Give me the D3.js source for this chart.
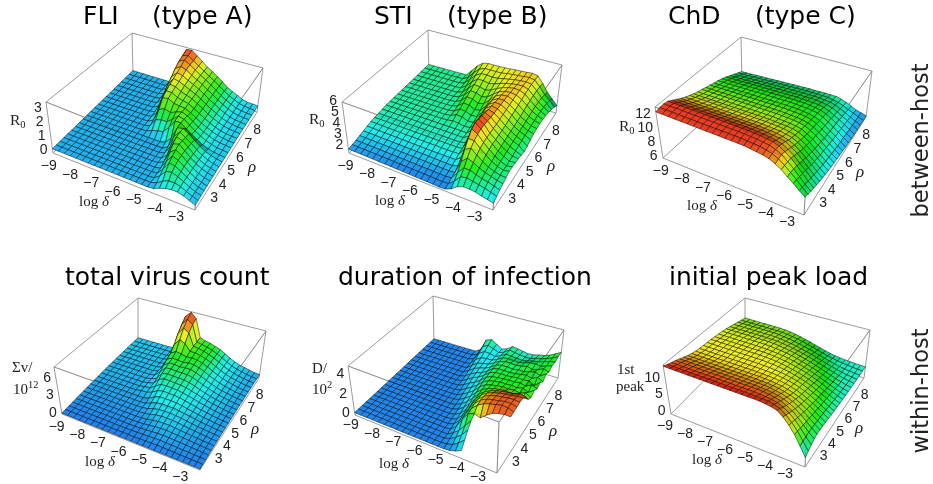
<!DOCTYPE html>
<html>
<head>
<meta charset="utf-8">
<script src="https://cdn.jsdelivr.net/npm/d3@7"></script>
<style>
  html, body { margin: 0; padding: 0; background: #fff; }
  #chart { display: block; filter: blur(0.3px); }
</style>
</head>
<body>
<svg id="chart"></svg>
<script>
// ticks
const deltaTicks = [-9, -8, -7, -6, -5, -4, -3];
const rhoTicks = [3, 4, 5, 6, 7, 8];

// surfaces: one row per rho step (front to back), one value per log delta step
const fliR0 = [
[.05,.05,.05,.05,.05,.05,.05,.05,.05,.05,.05,.05,.05,.05,.05,.05,.05,.1,.3,.45,.55,.55,.45,.28,.1],
[.05,.05,.05,.05,.05,.05,.05,.05,.05,.05,.05,.05,.05,.05,.05,.05,.06,.2,.5,.7,.72,.62,.42,.25,.12],
[.05,.05,.05,.05,.05,.05,.05,.05,.05,.05,.05,.05,.05,.05,.05,.05,.08,.4,.9,1,.85,.65,.42,.25,.13],
[.05,.05,.05,.05,.05,.05,.05,.05,.05,.05,.05,.05,.05,.05,.05,.05,.1,.6,1.2,1.15,.9,.65,.42,.26,.15],
[.05,.05,.05,.05,.05,.05,.05,.05,.05,.05,.05,.05,.05,.05,.05,.05,.15,.85,1.4,1.25,.95,.65,.42,.26,.16],
[.05,.05,.05,.05,.05,.05,.05,.05,.05,.05,.05,.05,.05,.05,.05,.08,.3,1.2,1.55,1.3,.95,.65,.42,.26,.17],
[.05,.05,.05,.05,.05,.05,.05,.05,.05,.05,.05,.05,.05,.05,.05,.1,.5,1.5,1.65,1.3,.95,.65,.42,.28,.18],
[.05,.05,.05,.05,.05,.05,.05,.05,.05,.05,.05,.05,.05,.05,.05,.15,.85,1.7,1.6,1.25,.9,.62,.42,.28,.2],
[.05,.05,.05,.05,.05,.05,.05,.05,.05,.05,.05,.05,.05,.05,.05,.3,1.25,1.75,1.5,1.2,.88,.6,.4,.28,.2],
[.05,.05,.05,.05,.05,.05,.05,.05,.05,.05,.05,.05,.05,.05,.18,.65,1.6,1.7,1.45,1.1,.8,.55,.4,.3,.22],
[.05,.05,.05,.05,.05,.05,.05,.05,.05,.06,.1,.3,.4,.5,1,1.65,1.65,1.35,1.05,.8,.55,.4,.3,.25,.2],
[.05,.05,.05,.05,.05,.05,.05,.05,.05,.06,.18,.8,.95,.95,1.3,1.7,1.6,1.3,1,.75,.55,.4,.3,.25,.22],
[.05,.05,.05,.05,.05,.05,.05,.05,.05,.08,.3,1.3,1.5,1.35,1.55,1.7,1.55,1.25,.95,.72,.55,.4,.32,.27,.24],
[.05,.05,.05,.05,.05,.05,.05,.05,.06,.12,.6,1.9,2,1.75,1.7,1.65,1.45,1.2,.92,.72,.55,.4,.32,.27,.24],
[.05,.05,.05,.05,.05,.05,.05,.05,.07,.18,1,2.15,2.15,1.9,1.8,1.7,1.45,1.2,.95,.72,.55,.4,.32,.27,.25],
[.05,.05,.05,.05,.05,.05,.05,.05,.08,.3,1.45,2.35,2.3,2.05,1.9,1.75,1.5,1.25,.95,.75,.55,.42,.33,.28,.25],
[.05,.05,.05,.05,.05,.05,.05,.05,.1,.5,1.85,2.5,2.4,2.2,2,1.8,1.55,1.25,1,.78,.55,.42,.33,.28,.25],
[.05,.05,.05,.05,.05,.05,.05,.05,.12,.75,2.2,2.65,2.55,2.3,2.1,1.85,1.6,1.3,1.05,.8,.6,.42,.33,.28,.25],
[.05,.05,.05,.05,.05,.05,.05,.05,.2,1.05,2.55,2.85,2.7,2.4,2.15,1.9,1.6,1.35,1.05,.8,.6,.42,.33,.28,.25],
[.05,.05,.05,.05,.05,.05,.05,.05,.3,1.4,2.85,3.05,2.8,2.5,2.2,1.95,1.65,1.35,1.05,.8,.6,.42,.33,.28,.25],
[.05,.05,.05,.05,.05,.05,.05,.05,.5,1.8,3,3.1,2.8,2.5,2.2,1.9,1.65,1.35,1.05,.8,.6,.42,.32,.28,.25],
[.05,.05,.05,.05,.05,.05,.05,.05,.8,2,3.2,3.25,2.9,2.55,2.2,1.95,1.65,1.35,1,.8,.6,.4,.3,.28,.25]
];

const stiR0 = [
[1.85,1.85,1.84,1.83,1.82,1.8,1.79,1.78,1.76,1.75,1.74,1.72,1.71,1.7,1.68,1.65,1.68,1.9,2.3,2.5,2.5,2.45,2.3,2.2,2.1],
[1.93,1.93,1.92,1.91,1.9,1.89,1.88,1.87,1.85,1.84,1.83,1.81,1.8,1.78,1.77,1.75,1.78,2.2,2.8,2.9,2.8,2.7,2.6,2.45,2.3],
[2,2,1.99,1.98,1.97,1.96,1.95,1.94,1.93,1.92,1.9,1.89,1.88,1.87,1.86,1.85,1.9,2.6,3.2,3.2,3,2.85,2.75,2.6,2.45],
[2.1,2.1,2.09,2.08,2.07,2.06,2.05,2.04,2.03,2.02,2.01,2,1.99,1.97,1.96,1.95,2,3.2,3.7,3.5,3.2,3,2.85,2.7,2.6],
[2.2,2.2,2.19,2.18,2.17,2.16,2.15,2.14,2.13,2.12,2.11,2.1,2.09,2.07,2.06,2.05,2.25,3.9,4.2,3.8,3.4,3.1,2.9,2.75,2.75],
[2.3,2.3,2.29,2.28,2.27,2.26,2.25,2.24,2.23,2.22,2.21,2.2,2.2,2.2,2.2,2.2,2.6,4.5,4.5,4,3.6,3.2,2.95,2.8,2.9],
[2.4,2.4,2.39,2.38,2.37,2.36,2.35,2.35,2.34,2.34,2.33,2.33,2.32,2.32,2.32,2.35,3,5,4.7,4.15,3.7,3.3,3,2.8,2.9],
[2.45,2.45,2.45,2.44,2.44,2.43,2.43,2.42,2.42,2.42,2.41,2.41,2.41,2.41,2.41,2.45,3.5,5.2,4.8,4.2,3.8,3.35,3.05,2.8,2.85],
[2.5,2.5,2.5,2.49,2.49,2.48,2.48,2.48,2.47,2.47,2.47,2.47,2.46,2.46,2.46,2.6,3.9,5.15,4.8,4.2,3.8,3.4,3.1,2.85,2.8],
[2.55,2.55,2.55,2.54,2.54,2.53,2.53,2.53,2.52,2.52,2.52,2.52,2.51,2.51,2.5,2.8,4.2,5.05,4.75,4.25,3.85,3.45,3.15,2.9,2.7],
[2.6,2.6,2.6,2.59,2.59,2.58,2.58,2.58,2.57,2.57,2.57,2.57,2.56,2.56,2.55,3,4.3,4.95,4.7,4.25,3.85,3.5,3.2,3,2.6],
[2.62,2.62,2.62,2.62,2.62,2.62,2.62,2.62,2.62,2.62,2.65,2.75,2.7,2.6,2.65,3.1,4.35,4.85,4.7,4.3,3.9,3.55,3.25,3.05,2.7],
[2.63,2.63,2.63,2.63,2.63,2.63,2.63,2.63,2.63,2.63,2.7,2.95,2.9,2.7,2.75,3.3,4.4,4.8,4.7,4.35,4,3.6,3.3,3.1,2.85],
[2.64,2.64,2.64,2.64,2.64,2.64,2.64,2.64,2.64,2.65,2.75,3.1,3.05,2.85,2.9,3.5,4.4,4.75,4.7,4.4,4.05,3.65,3.35,3.1,3],
[2.65,2.65,2.65,2.65,2.65,2.65,2.65,2.65,2.65,2.68,2.85,3.3,3.25,3,3.1,3.7,4.4,4.7,4.7,4.45,4.1,3.7,3.4,3.15,3.05],
[2.66,2.66,2.66,2.66,2.66,2.66,2.66,2.66,2.67,2.72,3,3.5,3.45,3.2,3.35,3.85,4.4,4.65,4.7,4.5,4.2,3.8,3.45,3.2,3.1],
[2.67,2.67,2.67,2.67,2.67,2.67,2.67,2.67,2.68,2.8,3.2,3.7,3.65,3.45,3.6,4,4.4,4.6,4.65,4.55,4.3,3.9,3.5,3.25,3.05],
[2.68,2.68,2.68,2.68,2.68,2.68,2.68,2.68,2.7,2.9,3.4,3.9,3.85,3.7,3.85,4.15,4.4,4.55,4.65,4.6,4.4,3.95,3.55,3.25,3],
[2.7,2.7,2.7,2.7,2.7,2.7,2.7,2.7,2.75,3.1,3.65,4.05,4.05,3.95,4.05,4.25,4.4,4.5,4.6,4.6,4.45,4,3.55,3.2,2.9],
[2.71,2.71,2.71,2.71,2.71,2.71,2.71,2.71,2.85,3.35,3.9,4.2,4.2,4.15,4.2,4.3,4.4,4.5,4.55,4.6,4.5,4.05,3.5,3.15,2.7],
[2.72,2.72,2.72,2.72,2.72,2.72,2.72,2.72,3,3.6,4.1,4.3,4.3,4.3,4.3,4.4,4.45,4.5,4.55,4.6,4.5,4,3.4,3,2.5],
[2.73,2.73,2.73,2.73,2.73,2.73,2.73,2.73,3.3,3.9,4.3,4.4,4.4,4.4,4.42,4.45,4.5,4.52,4.55,4.6,4.5,3.9,3.2,2.7,2.2]
];

const chdR0 = [
[12.1,12.1,12.1,12.1,12.1,12.1,12.1,12.1,12.1,12.1,12.1,12.1,12.1,12.1,12.1,12,11.9,11.8,11.6,11.2,10.7,10,9.4,8.7,8.1],
[12.25,12.25,12.25,12.25,12.25,12.25,12.25,12.25,12.25,12.25,12.25,12.25,12.25,12.25,12.2,12.15,12.1,11.9,11.7,11.3,10.7,10,9.3,8.5,7.85],
[12.3,12.3,12.3,12.3,12.3,12.3,12.3,12.3,12.3,12.3,12.3,12.3,12.3,12.3,12.25,12.2,12.1,12,11.7,11.3,10.6,9.9,9.1,8.3,7.6],
[12.2,12.2,12.2,12.2,12.2,12.2,12.2,12.2,12.2,12.2,12.2,12.2,12.2,12.2,12.15,12.1,12,11.9,11.6,11.1,10.5,9.7,8.9,8.1,7.4],
[11.85,11.85,11.85,11.85,11.85,11.85,11.85,11.85,11.85,11.85,11.85,11.85,11.85,11.85,11.8,11.75,11.65,11.5,11.3,10.8,10.2,9.4,8.7,7.9,7.2],
[11.5,11.5,11.5,11.5,11.5,11.5,11.5,11.5,11.5,11.5,11.5,11.5,11.5,11.5,11.45,11.4,11.3,11.2,11,10.5,9.9,9.2,8.4,7.7,7],
[11.15,11.15,11.15,11.15,11.15,11.15,11.15,11.15,11.15,11.15,11.15,11.15,11.15,11.15,11.1,11.05,11,10.85,10.6,10.2,9.6,8.9,8.2,7.5,6.85],
[10.85,10.85,10.85,10.85,10.85,10.85,10.85,10.85,10.85,10.85,10.85,10.85,10.85,10.85,10.8,10.75,10.7,10.55,10.35,9.95,9.35,8.7,8,7.3,6.7],
[10.6,10.6,10.6,10.6,10.6,10.6,10.6,10.6,10.6,10.6,10.6,10.6,10.6,10.6,10.55,10.5,10.45,10.3,10.1,9.7,9.15,8.5,7.85,7.15,6.55],
[10.35,10.35,10.35,10.35,10.35,10.35,10.35,10.35,10.35,10.35,10.35,10.35,10.35,10.35,10.3,10.25,10.2,10.1,9.9,9.5,8.95,8.3,7.65,7,6.4],
[10.15,10.15,10.15,10.15,10.15,10.15,10.15,10.15,10.15,10.15,10.15,10.15,10.15,10.15,10.1,10.05,10,9.9,9.7,9.3,8.75,8.15,7.55,6.9,6.3],
[10,10,10,10,10,10,10,10,10,10,10,10,10,10,9.95,9.9,9.85,9.75,9.55,9.15,8.65,8,7.4,6.75,6.2],
[9.8,9.8,9.8,9.8,9.8,9.8,9.8,9.8,9.8,9.8,9.8,9.8,9.8,9.8,9.75,9.7,9.65,9.55,9.35,9,8.45,7.9,7.3,6.65,6.1],
[9.65,9.65,9.65,9.65,9.65,9.65,9.65,9.65,9.65,9.65,9.65,9.65,9.65,9.65,9.6,9.55,9.5,9.4,9.2,8.85,8.3,7.75,7.15,6.55,6],
[9.45,9.45,9.45,9.45,9.45,9.45,9.45,9.45,9.45,9.45,9.45,9.45,9.45,9.45,9.4,9.4,9.3,9.2,9,8.7,8.15,7.6,7.05,6.45,5.9],
[9.3,9.3,9.3,9.3,9.3,9.3,9.3,9.3,9.3,9.3,9.3,9.3,9.3,9.3,9.25,9.2,9.15,9.05,8.9,8.55,8.05,7.5,6.95,6.4,5.85],
[9.1,9.1,9.1,9.1,9.1,9.1,9.1,9.1,9.1,9.1,9.1,9.1,9.1,9.1,9.05,9.05,8.95,8.85,8.7,8.35,7.9,7.4,6.85,6.3,5.8],
[8.85,8.85,8.85,8.85,8.85,8.85,8.85,8.85,8.85,8.85,8.85,8.85,8.85,8.85,8.8,8.8,8.7,8.65,8.45,8.15,7.7,7.25,6.75,6.2,5.75],
[8.55,8.55,8.55,8.55,8.55,8.55,8.55,8.55,8.55,8.55,8.55,8.55,8.55,8.55,8.5,8.5,8.45,8.35,8.2,7.95,7.55,7.1,6.65,6.15,5.72],
[8.25,8.25,8.25,8.25,8.25,8.25,8.25,8.25,8.25,8.25,8.25,8.25,8.25,8.25,8.2,8.2,8.15,8.05,7.95,7.7,7.35,6.95,6.5,6.1,5.7],
[7.95,7.95,7.95,7.95,7.95,7.95,7.95,7.95,7.95,7.95,7.95,7.95,7.95,7.95,7.9,7.9,7.85,7.8,7.65,7.45,7.15,6.75,6.4,6.05,5.7],
[7.65,7.65,7.65,7.65,7.65,7.65,7.65,7.65,7.65,7.65,7.65,7.65,7.65,7.65,7.6,7.6,7.6,7.55,7.5,7.3,7,6.6,6.2,5.95,5.7]
];

const virusCount = [
[0,0,0,0,0,0,0,0,0,0,0,0,0,0,0,0,0,0,0,0,0,0,0,0,0],
[.05,.05,.05,.05,.05,.05,.05,.05,.05,.05,.05,.06,.08,.11,.14,.17,.18,.18,.16,.14,.12,.1,.08,.07,.06],
[.1,.1,.1,.1,.1,.1,.1,.1,.1,.1,.1,.12,.15,.2,.25,.3,.32,.31,.29,.26,.22,.19,.16,.13,.11],
[.15,.15,.15,.15,.15,.15,.15,.15,.15,.15,.15,.17,.22,.3,.38,.45,.48,.46,.42,.37,.32,.28,.23,.19,.15],
[.2,.2,.2,.2,.2,.2,.2,.2,.2,.2,.2,.22,.3,.42,.55,.62,.65,.6,.55,.47,.4,.35,.28,.23,.19],
[.25,.25,.25,.25,.25,.25,.25,.25,.25,.25,.26,.3,.4,.6,.75,.8,.8,.75,.65,.55,.48,.4,.33,.27,.22],
[.3,.3,.3,.3,.3,.3,.3,.3,.3,.3,.32,.4,.6,.85,.95,1,.95,.88,.75,.65,.55,.45,.37,.3,.24],
[.35,.35,.35,.35,.35,.35,.35,.35,.35,.35,.4,.55,.9,1.1,1.15,1.15,1.1,1,.85,.72,.6,.5,.4,.33,.27],
[.4,.4,.4,.4,.4,.4,.4,.4,.4,.4,.5,.85,1.25,1.35,1.35,1.35,1.25,1.1,.95,.8,.65,.55,.45,.36,.3],
[.45,.45,.45,.45,.45,.45,.45,.45,.45,.45,.7,1.25,1.6,1.6,1.6,1.55,1.4,1.2,1.05,.88,.72,.6,.48,.38,.32],
[.5,.5,.5,.5,.5,.5,.5,.5,.7,.75,1.1,1.7,1.9,1.85,1.85,1.75,1.55,1.35,1.15,.95,.8,.65,.52,.42,.34],
[.55,.55,.55,.55,.55,.55,.55,.55,.75,.85,1.5,2.1,2.15,2.1,2.05,1.9,1.7,1.5,1.25,1.05,.85,.7,.55,.44,.36],
[.6,.6,.6,.6,.6,.6,.6,.6,.8,1,2,2.4,2.35,2.3,2.25,2.1,1.85,1.6,1.35,1.1,.9,.75,.58,.46,.38],
[.62,.62,.62,.62,.62,.62,.62,.62,.85,1.2,2.4,2.6,2.5,2.5,2.45,2.3,2,1.7,1.4,1.15,.95,.78,.6,.48,.4],
[.65,.65,.65,.65,.65,.65,.65,.65,.85,1.7,2.7,2.8,2.7,2.7,2.7,2.5,2.15,1.8,1.5,1.2,.98,.8,.62,.5,.42],
[.68,.68,.68,.68,.68,.68,.68,.68,.9,2.2,2.9,2.9,2.8,2.9,2.9,2.65,2.3,1.9,1.55,1.25,1,.82,.64,.52,.43],
[.7,.7,.7,.7,.7,.7,.7,.7,.9,2.6,3.1,3,2.9,3.1,3.05,2.8,2.45,2,1.65,1.3,1.05,.85,.66,.54,.44],
[.72,.72,.72,.72,.72,.72,.72,.72,.95,3,3.6,3.4,3.2,3.3,3.2,2.9,2.55,2.1,1.7,1.35,1.1,.88,.68,.55,.45],
[.75,.75,.75,.75,.75,.75,.75,.75,1,3.9,5,4.6,3.5,3.5,3.3,3,2.65,2.2,1.75,1.4,1.1,.9,.7,.55,.45],
[.77,.77,.77,.77,.77,.77,.77,.77,1,5.2,6.4,5.8,3.7,3.6,3.35,3.05,2.7,2.25,1.8,1.4,1.1,.9,.7,.55,.45],
[.78,.78,.78,.78,.78,.78,.78,.78,1.1,6.2,7.3,6.6,3.8,3.6,3.4,3.1,2.75,2.3,1.8,1.4,1.1,.9,.7,.55,.45],
[.8,.8,.8,.8,.8,.8,.8,.85,1.2,7,7.9,7,3.9,3.6,3.4,3.1,2.8,2.3,1.8,1.4,1.1,.9,.7,.55,.45]
];

// null = no surface there (low rho, high delta: the infection does not persist)
const duration = [
[.05,.05,.05,.05,.05,.05,.05,.05,.05,.05,.05,.05,.05,.05,.05,.06,.12,.3,.6,null,null,null,null,null,null],
[.05,.05,.05,.05,.05,.05,.05,.05,.05,.05,.05,.05,.05,.05,.05,.12,.3,.7,1.2,null,null,null,null,null,null],
[.05,.05,.05,.05,.05,.05,.05,.05,.05,.05,.05,.05,.05,.05,.05,.25,.6,1.1,1.8,null,null,null,null,null,null],
[.05,.05,.05,.05,.05,.05,.05,.05,.05,.05,.05,.05,.05,.05,.05,.4,.9,1.6,2.3,null,null,null,null,null,null],
[.05,.05,.05,.05,.05,.05,.05,.05,.05,.05,.05,.05,.05,.05,.15,.65,1.6,2.4,2.6,2.4,2.9,3.3,3.5,3.6,3.6],
[.05,.05,.05,.05,.05,.05,.05,.05,.05,.05,.05,.05,.05,.05,.25,.85,1.75,2.5,3.05,3.4,3.6,3.75,3.9,3.85,3.65],
[.05,.05,.05,.05,.05,.05,.05,.05,.05,.05,.05,.05,.05,.12,.35,1,1.85,2.6,3.15,3.45,3.6,3.7,3.85,3.85,3.7],
[.05,.05,.05,.05,.05,.05,.05,.05,.05,.05,.05,.05,.05,.2,.5,1.15,1.95,2.6,3.1,3.4,3.55,3.65,3.75,3.8,3.75],
[.05,.05,.05,.05,.05,.05,.05,.05,.05,.05,.05,.05,.1,.3,.7,1.3,2,2.6,3,3.25,3.4,3.5,3.6,3.7,3.7],
[.05,.05,.05,.05,.05,.05,.05,.05,.05,.05,.05,.05,.15,.45,.85,1.45,2.05,2.5,2.8,3,3.15,3.25,3.3,3.5,3.4],
[.05,.05,.05,.05,.05,.05,.05,.05,.05,.05,.05,.08,.25,.6,1,1.6,2.1,2.4,2.6,2.7,2.8,2.7,2.85,2.7,2.7],
[.05,.05,.05,.05,.05,.05,.05,.05,.05,.05,.05,.12,.4,.75,1.15,1.75,2.15,2.35,2.45,2.55,2.5,2.6,2.5,2.7,2.4],
[.05,.05,.05,.05,.05,.05,.05,.05,.05,.05,.07,.2,.55,.9,1.3,1.85,2.15,2.3,2.4,2.4,2.45,2.4,2.55,2.3,2.7],
[.05,.05,.05,.05,.05,.05,.05,.05,.05,.05,.1,.35,.7,1,1.4,1.9,2.15,2.25,2.3,2.35,2.35,2.45,2.3,2.6,2.4],
[.05,.05,.05,.05,.05,.05,.05,.05,.05,.05,.15,.5,.85,1.1,1.5,1.95,2.15,2.2,2.2,2.25,2.35,2.3,2.4,2.1,2.6],
[.05,.05,.05,.05,.05,.05,.05,.05,.05,.05,.25,.65,.95,1.15,1.5,1.95,2.1,2.1,2.1,2.15,2.25,2.35,2.2,2.5,2.2],
[.05,.05,.05,.05,.05,.05,.05,.05,.05,.06,.4,.8,1.05,1.2,1.5,1.9,2.05,2.05,2,2.1,2.1,2.25,2.4,2.2,2.55],
[.05,.05,.05,.05,.05,.05,.05,.05,.05,.08,.55,.95,1.1,1.2,1.5,1.85,2,2,1.95,2.05,2.2,2.05,2.2,2.45,2.3],
[.05,.05,.05,.05,.05,.05,.05,.05,.05,.12,.75,1.1,1.2,1.2,1.45,1.8,1.85,1.85,1.8,1.95,2.1,2.15,2.1,2.3,2.5],
[.05,.05,.05,.05,.05,.05,.05,.05,.05,.2,1,1.35,1.3,1.15,1.4,1.75,1.7,1.65,1.6,1.7,1.85,1.95,2.1,2.3,2.4],
[.05,.05,.05,.05,.05,.05,.05,.05,.05,.3,1.3,1.6,1.4,1.15,1.35,1.75,1.65,1.55,1.5,1.5,1.7,1.8,2,2.2,2.5],
[.05,.05,.05,.05,.05,.05,.05,.05,.05,.4,1.6,1.8,1.45,1.1,1.3,1.7,1.6,1.5,1.4,1.45,1.6,1.7,1.9,2.2,2.5]
];

const peakLoad = [
[13.6,13.6,13.6,13.6,13.6,13.6,13.6,13.6,13.6,13.6,13.6,13.6,13.6,13.6,13.6,13.6,13.6,13.4,13.2,12.7,11.4,9.6,7.4,4.6,1.8],
[13.2,13.2,13.2,13.2,13.2,13.2,13.2,13.2,13.2,13.2,13.2,13.2,13.2,13.2,13.2,13.2,13.1,13,12.7,12,10.8,9.1,7.2,4.8,2.5],
[12.8,12.8,12.8,12.8,12.8,12.8,12.8,12.8,12.8,12.8,12.8,12.8,12.8,12.8,12.8,12.7,12.6,12.4,12,11.3,10.2,8.7,6.9,4.9,3.1],
[12.4,12.4,12.4,12.4,12.4,12.4,12.4,12.4,12.4,12.4,12.4,12.4,12.4,12.4,12.4,12.3,12.1,11.8,11.4,10.6,9.6,8.2,6.6,5,3.6],
[11.9,11.9,11.9,11.9,11.9,11.9,11.9,11.9,11.9,11.9,11.9,11.9,11.9,11.9,11.8,11.7,11.5,11.2,10.7,10,9,7.8,6.4,5,3.8],
[11.4,11.4,11.4,11.4,11.4,11.4,11.4,11.4,11.4,11.4,11.4,11.4,11.4,11.4,11.3,11.2,10.9,10.6,10.1,9.4,8.5,7.4,6.1,4.9,3.8],
[10.9,10.9,10.9,10.9,10.9,10.9,10.9,10.9,10.9,10.9,10.9,10.9,10.9,10.8,10.75,10.6,10.4,10,9.5,8.9,8,7,5.9,4.7,3.7],
[10.5,10.5,10.5,10.5,10.5,10.5,10.5,10.5,10.5,10.5,10.5,10.5,10.5,10.4,10.3,10.1,9.9,9.5,9,8.4,7.6,6.7,5.6,4.5,3.55],
[10.2,10.2,10.2,10.2,10.2,10.2,10.2,10.2,10.2,10.2,10.2,10.2,10.1,10.05,9.95,9.75,9.5,9.1,8.6,8,7.2,6.3,5.4,4.4,3.45],
[10,10,10,10,10,10,10,10,10,10,10,10,9.9,9.8,9.65,9.45,9.15,8.75,8.25,7.6,6.9,6,5.1,4.2,3.3],
[9.9,9.9,9.9,9.9,9.9,9.9,9.9,9.9,9.9,9.9,9.9,9.8,9.75,9.6,9.4,9.15,8.8,8.4,7.9,7.25,6.5,5.7,4.85,4,3.2],
[9.8,9.8,9.8,9.8,9.8,9.8,9.8,9.8,9.8,9.8,9.8,9.7,9.6,9.4,9.15,8.85,8.45,8,7.5,6.85,6.15,5.4,4.6,3.8,3.05],
[9.7,9.7,9.7,9.7,9.7,9.7,9.7,9.7,9.7,9.7,9.6,9.5,9.35,9.1,8.8,8.45,8.05,7.6,7.05,6.45,5.8,5.05,4.3,3.6,2.95],
[9.5,9.5,9.5,9.5,9.5,9.5,9.5,9.5,9.5,9.5,9.4,9.25,9.05,8.8,8.5,8.1,7.7,7.2,6.65,6.05,5.4,4.7,4.05,3.4,2.85],
[9.3,9.3,9.3,9.3,9.3,9.3,9.3,9.3,9.3,9.2,9.1,8.95,8.75,8.45,8.1,7.7,7.25,6.75,6.2,5.6,5,4.4,3.75,3.2,2.75],
[9.1,9.1,9.1,9.1,9.1,9.1,9.1,9.1,9.1,9,8.85,8.65,8.4,8.1,7.7,7.25,6.8,6.3,5.75,5.2,4.6,4.05,3.5,3,2.65],
[8.8,8.8,8.8,8.8,8.8,8.8,8.8,8.8,8.8,8.7,8.5,8.25,8,7.65,7.25,6.8,6.35,5.85,5.3,4.8,4.25,3.75,3.3,2.9,2.6],
[8.4,8.4,8.4,8.4,8.4,8.4,8.4,8.4,8.35,8.25,8.05,7.8,7.5,7.15,6.75,6.35,5.85,5.35,4.85,4.35,3.9,3.45,3.1,2.8,2.55],
[8,8,8,8,8,8,8,8,7.95,7.8,7.55,7.3,7,6.6,6.2,5.8,5.3,4.85,4.4,3.95,3.55,3.2,2.9,2.7,2.5],
[7.6,7.6,7.6,7.6,7.6,7.6,7.6,7.6,7.5,7.3,7.1,6.8,6.45,6.05,5.65,5.2,4.75,4.3,3.9,3.55,3.2,2.95,2.75,2.6,2.5],
[7.1,7.1,7.1,7.1,7.1,7.1,7.1,7.1,7,6.85,6.6,6.3,5.95,5.5,5.1,4.65,4.2,3.8,3.5,3.2,3,2.8,2.65,2.55,2.5],
[6.7,6.7,6.7,6.7,6.7,6.7,6.7,6.7,6.6,6.4,6.15,5.8,5.4,5,4.5,4.05,3.65,3.3,3,2.85,2.7,2.6,2.55,2.5,2.5]
];

// Set up the SVG container
const svgWidth = 933;
const svgHeight = 484;
const svg = d3.select("#chart").attr("width", svgWidth).attr("height", svgHeight);

const serif = "'Liberation Serif', serif";
const sans = "'Liberation Sans', sans-serif";
const titleFont = "'DejaVu Sans', sans-serif";

// where each 3d box sits on the page: L left, K back, R right, B front corner, with t for the top of the box
const panels = [
  { values: fliR0, zDomain: [-.25, 3.35], zTicks: [0, 1, 2, 3], zDy: 5,
    hueDomain: [0, .5, 1, 1.4, 2.1, 2.6, 2.95, 3.25], hueRange: [200, 178, 145, 115, 85, 52, 28, 8],
    L: [53, 153], Lt: [46, 102], K: [133, 74], Kt: [132, 33], R: [257, 112], Rt: [263, 68], B: [195, 210], Bt: [197, 162],
    logPos: [79, 206], rhoPos: [248, 172], tickOff: [-10.5, 10.5] },
  { values: stiR0, zDomain: [1.5, 6.1], zTicks: [2, 3, 4, 5, 6], zDy: 2,
    hueDomain: [1.8, 2.25, 2.75, 3.3, 4.2, 4.6, 5], hueRange: [208, 180, 150, 115, 70, 50, 12],
    L: [349, 153], Lt: [342, 102], K: [429, 77], Kt: [428, 30], R: [556, 113], Rt: [562, 65], B: [493, 210], Bt: [497, 158],
    logPos: [375, 205], rhoPos: [547, 171], tickOff: [-10, 10] },
  { values: chdR0, zDomain: [5.5, 12.8], zTicks: [6, 8, 10, 12], zDy: 5,
    hueDomain: [5.6, 6.5, 8, 9.5, 10.5, 11.5, 12.2], hueRange: [210, 185, 143, 110, 70, 30, 8],
    L: [663, 158], Lt: [655, 107], K: [742, 86], Kt: [741, 37], R: [866, 117], Rt: [872, 71], B: [804, 215], Bt: [807, 165],
    logPos: [687, 210], rhoPos: [856, 177], tickOff: [-8.5, 10] },
  { values: virusCount, zDomain: [-.15, 8], zTicks: [0, 3, 6], zDy: 3.5,
    hueDomain: [0, .8, 2, 3, 5, 6.5, 7.8], hueRange: [212, 192, 172, 128, 72, 35, 3],
    L: [62, 414], Lt: [54, 367], K: [138, 343], Kt: [138, 298], R: [259, 378], Rt: [266, 331], B: [200, 470], Bt: [202, 420],
    logPos: [85, 466], rhoPos: [251, 434], tickOff: [-11.5, 10] },
  { values: duration, zDomain: [-.2, 4.85], zTicks: [0, 2, 4], zDy: 4,
    hueDomain: [0, .7, 1.3, 1.8, 2.5, 3, 3.4, 3.7], hueRange: [212, 188, 180, 145, 115, 50, 28, 18],
    L: [355, 415], Lt: [348, 366], K: [434, 341], Kt: [433, 296], R: [558, 378], Rt: [564, 330], B: [497, 473], Bt: [499, 422],
    logPos: [379, 468], rhoPos: [549, 436], tickOff: [-10.5, 7.5] },
  { values: peakLoad, zDomain: [-1, 14], zTicks: [0, 5, 10], zDy: 4,
    hueDomain: [1.8, 3, 5, 7, 10, 12, 13.8], hueRange: [170, 165, 120, 88, 58, 30, 0],
    L: [671, 414], Lt: [663, 365], K: [745, 339], Kt: [745, 298], R: [864, 378], Rt: [870, 330], B: [805, 467], Bt: [807, 417],
    logPos: [692, 464], rhoPos: [855, 433], tickOff: [-12, 10] }
];

// index in the value grids -> axis value -> position 0..1 along the box
const deltaDomain = [-9.3, -2.6];
const rhoDomain = [2.3, 9.5];
const deltaFromCol = d3.scaleLinear().domain([0, 24]).range(deltaDomain);
const rhoFromRow = d3.scaleLinear().domain([0, 21]).range(rhoDomain);
const deltaScale = d3.scaleLinear().domain(deltaDomain).range([0, 1]);
const rhoScale = d3.scaleLinear().domain(rhoDomain).range([0, 1]);

const mix = (a, b, t) => [a[0] + (b[0] - a[0]) * t, a[1] + (b[1] - a[1]) * t];
const quadLine = d3.line().curve(d3.curveLinearClosed);

panels.forEach(p => {
  const zScale = d3.scaleLinear().domain(p.zDomain).range([0, 1]);
  const hue = d3.scaleLinear().domain(p.hueDomain).range(p.hueRange).clamp(true);

  // delta, rho, z -> page position
  const project = (delta, rho, z) => {
    const u = deltaScale(delta), v = rhoScale(rho), w = zScale(z);
    const base = mix(mix(p.L, p.B, u), mix(p.K, p.R, u), v);
    const top = mix(mix(p.Lt, p.Bt, u), mix(p.Kt, p.Rt, u), v);
    return mix(base, top, w);
  };

  const g = svg.append("g");

  // box edges go behind the surface
  const edges = [[p.L, p.B], [p.B, p.R], [p.R, p.K], [p.K, p.L], [p.Lt, p.Bt], [p.Bt, p.Rt], [p.Rt, p.Kt], [p.Kt, p.Lt],
                 [p.L, p.Lt], [p.B, p.Bt], [p.R, p.Rt], [p.K, p.Kt]];
  g.selectAll(".edge").data(edges).join("line")
    .attr("x1", d => d[0][0]).attr("y1", d => d[0][1])
    .attr("x2", d => d[1][0]).attr("y2", d => d[1][1])
    .attr("stroke", "#9a9a9a").attr("stroke-width", 1);

  // one quad per grid cell, back rows first so nearer cells paint over them
  const cells = [];
  for (let r = p.values.length - 2; r >= 0; r--) {
    for (let c = 0; c < p.values[r].length - 1; c++) {
      const z0 = p.values[r][c], z1 = p.values[r][c + 1], z2 = p.values[r + 1][c + 1], z3 = p.values[r + 1][c];
      if (z0 === null || z1 === null || z2 === null || z3 === null) continue;
      const d0 = deltaFromCol(c), d1 = deltaFromCol(c + 1), r0 = rhoFromRow(r), r1 = rhoFromRow(r + 1);
      cells.push({
        corners: [project(d0, r0, z0), project(d1, r0, z1), project(d1, r1, z2), project(d0, r1, z3)],
        z: (z0 + z1 + z2 + z3) / 4,
        // rising towards the back faces the viewer, falling towards the back is in shadow
        slope: zScale((z2 + z3) / 2) - zScale((z0 + z1) / 2)
      });
    }
  }

  g.selectAll(".cell").data(cells).join("path")
    .attr("d", d => quadLine(d.corners))
    .attr("fill", d => d3.hsl(hue(d.z), .86, .5 + Math.max(-.2, Math.min(.03, (d.slope + .02) * 3.5))).formatRgb())
    .attr("stroke", "#000")
    .attr("stroke-opacity", .8)
    .attr("stroke-width", .6)
    .attr("stroke-linejoin", "round");

  // front edges of the box show faintly through the surface
  g.selectAll(".ghost").data([[p.Lt, p.Bt], [p.Bt, p.Rt], [p.B, p.Bt]]).join("line")
    .attr("x1", d => d[0][0]).attr("y1", d => d[0][1])
    .attr("x2", d => d[1][0]).attr("y2", d => d[1][1])
    .attr("stroke", "#333").attr("stroke-opacity", .22).attr("stroke-width", .8);

  // tick labels
  const tickLabel = sel => sel
    .attr("font-family", sans).attr("font-size", 14).attr("fill", "#222");

  g.selectAll(".zt").data(p.zTicks).join("text")
    .call(tickLabel)
    .attr("text-anchor", "end")
    .attr("x", d => project(deltaDomain[0], rhoDomain[0], d)[0] - 5)
    .attr("y", d => project(deltaDomain[0], rhoDomain[0], d)[1] + p.zDy)
    .text(d => d);

  g.selectAll(".dt").data(deltaTicks).join("text")
    .call(tickLabel)
    .attr("text-anchor", "middle")
    .attr("x", d => project(d, rhoDomain[0], p.zDomain[0])[0] + p.tickOff[0])
    .attr("y", d => project(d, rhoDomain[0], p.zDomain[0])[1] + p.tickOff[1] + 4)
    .text(d => "\u2212" + Math.abs(d));

  g.selectAll(".rt").data(rhoTicks).join("text")
    .call(tickLabel)
    .attr("text-anchor", "middle")
    .attr("x", d => project(deltaDomain[1], d, p.zDomain[0])[0] + 13)
    .attr("y", d => project(deltaDomain[1], d, p.zDomain[0])[1] + 2)
    .text(d => d);

  // axis names
  const logLabel = g.append("text")
    .attr("x", p.logPos[0]).attr("y", p.logPos[1])
    .attr("font-family", serif).attr("font-size", 15).attr("fill", "#222");
  logLabel.append("tspan").text("log ");
  logLabel.append("tspan").attr("font-style", "italic").text("\u03b4");

  g.append("text")
    .attr("x", p.rhoPos[0]).attr("y", p.rhoPos[1])
    .attr("font-family", serif).attr("font-size", 17).attr("font-style", "italic").attr("fill", "#222")
    .text("\u03c1");
});

// z axis names, each one sits in its own spot
const zLabels = [
  { x: 10, y: 125, main: "R", sub: "0" },
  { x: 309, y: 124, main: "R", sub: "0" },
  { x: 619, y: 131, main: "R", sub: "0" }
];
zLabels.forEach(d => {
  const t = svg.append("text").attr("x", d.x).attr("y", d.y)
    .attr("font-family", serif).attr("font-size", 15.5).attr("fill", "#222");
  t.append("tspan").text(d.main);
  t.append("tspan").attr("font-size", 10.5).attr("dy", 3).text(d.sub);
});

const zLines = [
  { x: 12, y: 372, text: "\u03a3v/" },
  { x: 312, y: 373, text: "D/" },
  { x: 617, y: 374, text: "1st" },
  { x: 616, y: 391, text: "peak" }
];
svg.selectAll(".zline").data(zLines).join("text")
  .attr("x", d => d.x).attr("y", d => d.y)
  .attr("font-family", serif).attr("font-size", 15).attr("fill", "#222")
  .text(d => d.text);

const zPowers = [
  { x: 13, y: 394, sup: "12" },
  { x: 312, y: 394, sup: "2" }
];
zPowers.forEach(d => {
  const t = svg.append("text").attr("x", d.x).attr("y", d.y)
    .attr("font-family", serif).attr("font-size", 15).attr("fill", "#222");
  t.append("tspan").text("10");
  t.append("tspan").attr("font-size", 10.5).attr("dy", -6).text(d.sup);
});

// titles
const titles = [
  { x: 83, y: 24, text: "FLI" }, { x: 152, y: 24, text: "(type A)" },
  { x: 374, y: 24, text: "STI" }, { x: 447, y: 24, text: "(type B)" },
  { x: 668, y: 24, text: "ChD" }, { x: 755, y: 24, text: "(type C)" },
  { x: 65, y: 285, text: "total virus count" },
  { x: 338, y: 285, text: "duration of infection" },
  { x: 669, y: 285, text: "initial peak load" }
];
svg.selectAll(".title").data(titles).join("text")
  .attr("x", d => d.x).attr("y", d => d.y)
  .attr("font-family", titleFont).attr("font-size", 25).attr("fill", "#000")
  .text(d => d.text);

// row labels on the right
const rowLabels = [
  { y: 140.5, text: "between-host" },
  { y: 391, text: "within-host" }
];
svg.selectAll(".row").data(rowLabels).join("text")
  .attr("transform", d => `translate(928, ${d.y}) rotate(-90)`)
  .attr("text-anchor", "middle")
  .attr("font-family", titleFont).attr("font-size", 22.5).attr("fill", "#222")
  .text(d => d.text);
</script>
</body>
</html>
